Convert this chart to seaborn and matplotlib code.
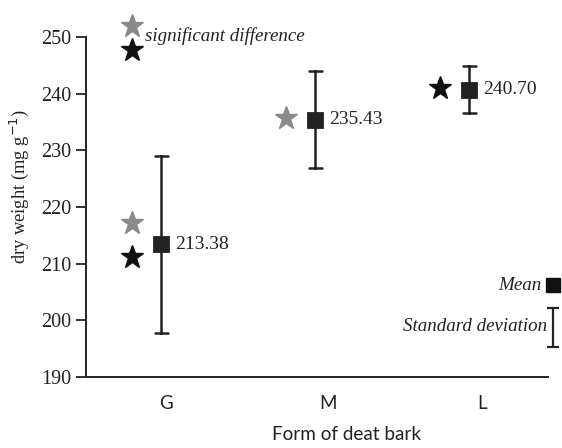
import matplotlib
matplotlib.use("Agg")
import matplotlib.pyplot as plt
import seaborn as sns
import pandas as pd

forms = ["G", "M", "L"]
means = [213.38, 235.43, 240.70]
sds = [15.6, 8.5, 4.2]

# significance stars: (category index, value)
grey_star_pos = [0, 1]
grey_star_val = [217.2, 235.7]
black_star_pos = [0, 2]
black_star_val = [211.2, 241.0]

sns.set_style("ticks")
serif = ["Liberation Serif", "DejaVu Serif"]
sans = ["Lato", "DejaVu Sans"]
plt.rcParams["font.family"] = serif

# two rows per group at mean-sd / mean+sd: the mean is the group mean,
# and the min-max interval is the standard deviation bar
df = pd.DataFrame({
    "form": [f for f in forms for _ in range(2)],
    "weight": [v for m, s in zip(means, sds) for v in (m - s, m + s)],
})

fig = plt.figure(figsize=(5.62, 4.48), dpi=100)
ax = fig.add_axes([0.153, 0.1585, 0.822, 0.759])

sns.pointplot(data=df, x="form", y="weight", order=forms,
              estimator="mean", errorbar=lambda v: (v.min(), v.max()),
              markers="s", linestyles="none", color="#222222",
              capsize=0.08, markersize=10,
              err_kws={"linewidth": 1.8}, ax=ax)

off = -0.19
ax.plot([p + off for p in grey_star_pos], grey_star_val, ls="none",
        marker="*", markersize=17, color="#8a8a8a", clip_on=False)
ax.plot([p + off for p in black_star_pos], black_star_val, ls="none",
        marker="*", markersize=17, color="#111111", clip_on=False)

for i, m in enumerate(means):
    ax.annotate(f"{m:.2f}", (i, m), xytext=(10, 0), textcoords="offset points",
                va="center", ha="left", fontsize=14, color="#222222")

# legend-like notes
ax.plot([off], [247.7], ls="none", marker="*", markersize=17,
        color="#111111", clip_on=False)
ax.plot([off], [251.9], ls="none", marker="*", markersize=17,
        color="#8a8a8a", clip_on=False)
ax.text(-0.11, 250.2, "significant difference", style="italic", fontsize=13.7,
        va="center", ha="left", color="#222222")
ax.plot([2.54], [206.2], ls="none", marker="s", markersize=10,
        color="#111111", clip_on=False)
ax.text(2.47, 206.2, "Mean", style="italic", fontsize=13.7,
        va="center", ha="right", color="#222222")
ax.errorbar([2.54], [198.75], yerr=[3.45], fmt="none", ecolor="#222222",
            elinewidth=1.6, capsize=4, capthick=1.6, clip_on=False)
ax.text(2.505, 198.9, "Standard deviation", style="italic", fontsize=13.7,
        va="center", ha="right", color="#222222")

ax.set_xlim(-0.49, 2.51)
ax.set_ylim(190, 250)
ax.set_yticks(range(190, 251, 10))
ax.set_xticks([0.03, 1.08, 2.08])
ax.set_xticklabels(forms, fontfamily=sans, fontsize=13.5)
ax.tick_params(axis="x", length=0, pad=13, colors="#222222")
ax.tick_params(axis="y", length=7, width=1.3, labelsize=14.5, colors="#222222")
for lab in ax.get_yticklabels():
    lab.set_fontfamily(serif)

sns.despine(ax=ax)
for s in ("left", "bottom"):
    ax.spines[s].set_linewidth(1.4)
    ax.spines[s].set_color("#222222")

ax.set_ylabel("dry weight (mg g$^{-1}$)", fontsize=13.3, color="#222222")
ax.yaxis.set_label_coords(-0.12, 0.56)
ax.set_xlabel("Form of deat bark", fontfamily=sans, fontsize=13.6, color="#222222")
ax.xaxis.set_label_coords(0.565, -0.145)

fig.savefig("out.png", dpi=100)
plt.close()
